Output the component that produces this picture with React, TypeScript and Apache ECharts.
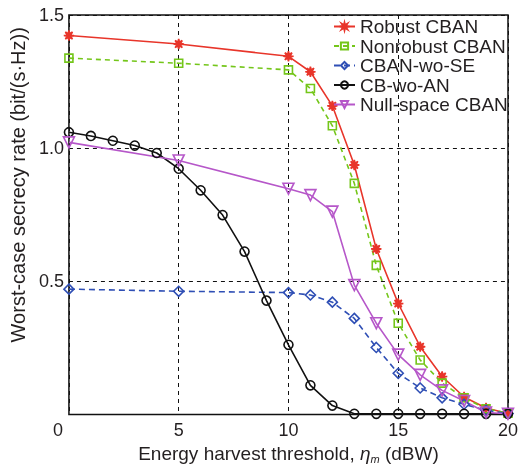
import React, { useEffect, useRef } from "react";
import * as echarts from "echarts";

const xMain = [0, 5, 10, 11, 12, 13, 14, 15, 16, 17, 18, 19, 20];
const robustCBAN = [1.423, 1.391, 1.345, 1.287, 1.159, 0.937, 0.622, 0.417, 0.255, 0.143, 0.066, 0.025, 0.004];
const nonrobustCBAN = [1.338, 1.319, 1.294, 1.224, 1.084, 0.868, 0.56, 0.343, 0.205, 0.118, 0.063, 0.022, 0.005];
const cbanWoSE = [0.471, 0.463, 0.458, 0.449, 0.422, 0.361, 0.252, 0.155, 0.1, 0.063, 0.039, 0.016, 0.004];
const nullSpaceCBAN = [1.022, 0.954, 0.848, 0.824, 0.762, 0.486, 0.343, 0.225, 0.149, 0.091, 0.051, 0.008, 0.003];
const xAll = [0, 1, 2, 3, 4, 5, 6, 7, 8, 9, 10, 11, 12, 13, 14, 15, 16, 17, 18, 19, 20];
const cbWoAN = [1.06, 1.046, 1.028, 1.01, 0.982, 0.923, 0.842, 0.749, 0.612, 0.428, 0.262, 0.11, 0.034, 0.003, 0.003, 0.003, 0.003, 0.003, 0.003, 0.003, 0.003];

const seriesNames = ["Robust CBAN", "Nonrobust CBAN", "CBAN-wo-SE", "CB-wo-AN", "Null-space CBAN"];

function starPath(): string {
  const pts: string[] = [];
  for (let k = 0; k < 16; k++) {
    const a = (k * Math.PI) / 8 - Math.PI / 2;
    const r = k % 2 === 0 ? 10 : 4;
    pts.push(`${(10 + r * Math.cos(a)).toFixed(2)} ${(10 + r * Math.sin(a)).toFixed(2)}`);
  }
  return "path://M" + pts.join(" L") + " Z";
}

const FONT = "'Liberation Sans', Arial, sans-serif";
const TXT = "#231f20";

export default function App() {
  const ref = useRef<HTMLDivElement>(null);
  useEffect(() => {
    if (!ref.current) return;
    const chart = echarts.init(ref.current, null, { renderer: "svg" });
    const pair = (xs: number[], ys: number[]) => xs.map((x, i) => [x, ys[i]]);
    const mk = (name: string, data: number[][], color: string, symbol: string, size: number, dashed: number[] | null, rotate = 0) => ({
      name,
      type: "line",
      data,
      symbol,
      symbolSize: size,
      symbolRotate: rotate,
      lineStyle: { color, width: 1.6, type: dashed ? dashed : "solid" },
      itemStyle: { color: symbol.startsWith("path") ? color : "rgba(255,255,255,0)", borderColor: color, borderWidth: 1.6 },
      emphasis: { disabled: true },
    });
    chart.setOption({
      animation: false,
      grid: { left: 68, right: 10, top: 15, bottom: 51, show: true, borderColor: "#111", borderWidth: 1.5, backgroundColor: "transparent" },
      legend: {
        orient: "vertical",
        left: 333,
        top: 17,
        padding: 0,
        itemWidth: 21,
        itemHeight: 9,
        itemGap: 0.5,
        data: seriesNames,
        textStyle: { fontFamily: FONT, fontSize: 19, color: TXT, lineHeight: 18 },
      },
      xAxis: {
        type: "value",
        min: 0,
        max: 20,
        interval: 5,
        axisLine: { show: false },
        axisTick: { show: false },
        splitLine: { show: true, lineStyle: { color: "#111", type: [4, 4], width: 1 } },
        axisLabel: {
          margin: 6,
          fontFamily: FONT,
          fontSize: 18,
          color: TXT,
          formatter: (v: number) => (v === 0 ? "{z|0}" : String(v)),
          rich: { z: { fontFamily: FONT, fontSize: 18, color: TXT, padding: [0, 22, 0, 0] } },
        },
        name: "{a|Energy harvest threshold, }{i|η}{s|m}{a| (dBW)}",
        nameLocation: "middle",
        nameGap: 27,
        nameTextStyle: {
          rich: {
            a: { fontFamily: FONT, fontSize: 19, color: TXT },
            i: { fontFamily: FONT, fontSize: 19, color: TXT, fontStyle: "italic" },
            s: { fontFamily: FONT, fontSize: 11, color: TXT, fontStyle: "italic", padding: [11, 0, 0, 0] },
          },
        },
      },
      yAxis: {
        type: "value",
        min: 0,
        max: 1.5,
        interval: 0.5,
        axisLine: { show: false },
        axisTick: { show: false },
        splitLine: { show: true, lineStyle: { color: "#111", type: [4, 4], width: 1 } },
        axisLabel: {
          margin: 5,
          fontFamily: FONT,
          fontSize: 18,
          color: TXT,
          formatter: (v: number) => (v === 0 ? "" : v.toFixed(1)),
        },
        name: "Worst-case secrecy rate (bit/(s·Hz))",
        nameLocation: "middle",
        nameGap: 39,
        nameTextStyle: { fontFamily: FONT, fontSize: 20, color: TXT, padding: [0, 0, 0, 60] },
      },
      series: [
        mk(seriesNames[0], pair(xMain, robustCBAN), "#e8352a", starPath(), 10, null),
        mk(seriesNames[1], pair(xMain, nonrobustCBAN), "#74c61a", "rect", 8, [5, 4]),
        mk(seriesNames[2], pair(xMain, cbanWoSE), "#2f4fb5", "diamond", 10, [6, 4]),
        mk(seriesNames[3], pair(xAll, cbWoAN), "#111111", "circle", 9, null),
        mk(seriesNames[4], pair(xMain, nullSpaceCBAN), "#b657c9", "triangle", 11, null, 180),
      ],
    });
    return () => chart.dispose();
  }, []);
  return <div ref={ref} style={{ position: "fixed", left: 0, top: 0, width: 521, height: 469 }} />;
}
